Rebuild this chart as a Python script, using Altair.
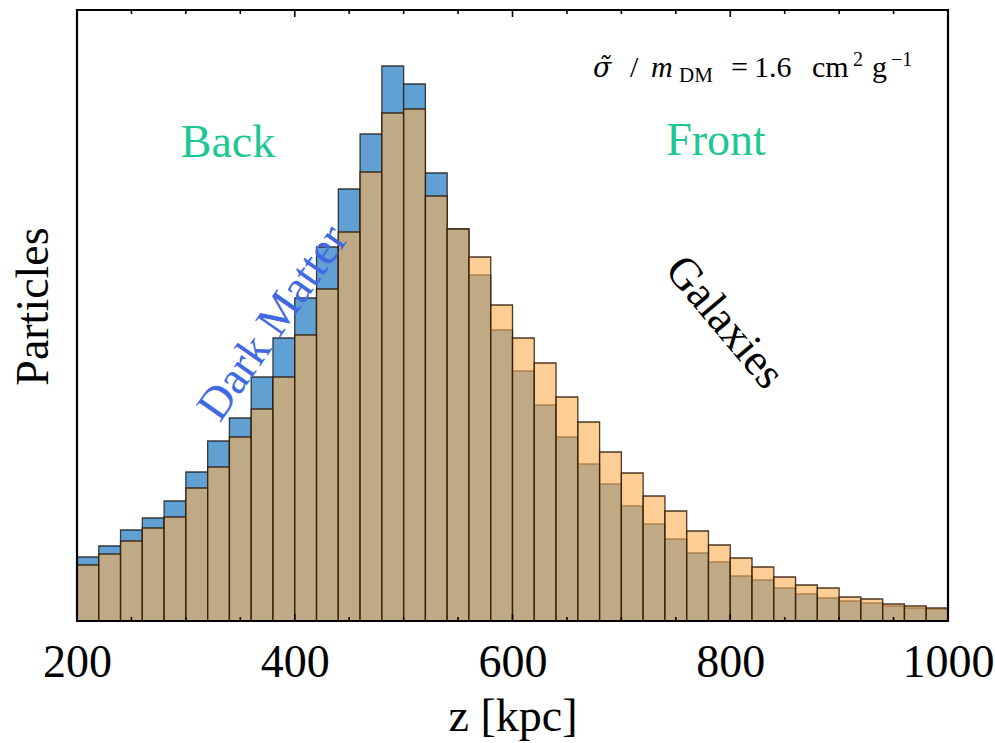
import altair as alt
import pandas as pd

# ---- data (arbitrary particle-count units) ----
z_start = [200, 220, 240, 260, 280, 300, 320, 340, 360, 380,
           400, 420, 440, 460, 480, 500, 520, 540, 560, 580,
           600, 620, 640, 660, 680, 700, 720, 740, 760, 780,
           800, 820, 840, 860, 880, 900, 920, 940, 960, 980]
bin_width = 20
dark_matter = [64, 75, 91, 103, 120, 149, 180, 203, 244, 283,
               323, 374, 432, 487, 555, 537, 448, 392, 346, 291,
               250, 216, 184, 157, 137, 115, 97, 82, 68, 59,
               45, 41, 33, 27, 23, 20, 18, 15, 13, 12]
galaxies = [56, 67, 80, 93, 104, 133, 154, 184, 212, 244,
            286, 332, 389, 449, 508, 512, 425, 392, 364, 316,
            283, 258, 224, 199, 169, 148, 125, 110, 90, 76,
            63, 54, 44, 36, 33, 24, 22, 17, 15, 13]
minor_ticks = [250, 300, 350, 450, 500, 550, 650, 700, 750, 850, 900, 950]
major_ticks = [400, 600, 800]
x_labels = [200, 400, 600, 800, 1000]

W, H = 871, 611
SERIF = "Liberation Serif"

df = pd.DataFrame({"z": z_start, "dm": dark_matter, "gal": galaxies})
df["z2"] = df["z"] + bin_width

xs = alt.Scale(domain=[200, 1000], nice=False, zero=False)
ys = alt.Scale(domain=[0, H], nice=False)

xaxis = alt.Axis(values=x_labels, format="d", labelFont=SERIF, labelFontSize=46,
                 labelColor="black", ticks=False, domain=False, grid=False,
                 labelPadding=19, labelFlush=False, title="z [kpc]",
                 titleFont=SERIF, titleFontSize=46, titleFontWeight="normal",
                 titleColor="black", titleY=109, titleBaseline="alphabetic")
yaxis = alt.Axis(labels=False, ticks=False, domain=False, grid=False,
                 title="Particles", titleFont=SERIF, titleFontSize=46,
                 titleFontWeight="normal", titleColor="black",
                 titleX=-30, titleY=296, titleBaseline="alphabetic",
                 titleAlign="center", titleAngle=270)

base = alt.Chart(df)
dm_bars = base.mark_rect(fill="#60a0d2", stroke="#1e1e1e", strokeWidth=1.3,
                         strokeOpacity=0.85).encode(
    x=alt.X("z:Q", scale=xs, axis=xaxis),
    x2="z2:Q",
    y=alt.Y("dm:Q", scale=ys, axis=yaxis),
    y2=alt.datum(0),
)
gal_bars = base.mark_rect(fill="#fbae55", fillOpacity=0.62, stroke="#2e1a06",
                          strokeWidth=1.3, strokeOpacity=0.85).encode(
    x=alt.X("z:Q", scale=xs),
    x2="z2:Q",
    y=alt.Y("gal:Q", scale=ys),
    y2=alt.datum(0),
)

tdf_minor = pd.DataFrame({"t": minor_ticks})
tdf_major = pd.DataFrame({"t": major_ticks})
tick_layers = []
for tdf, ln in ((tdf_minor, 4), (tdf_major, 7)):
    tick_layers.append(alt.Chart(tdf).mark_rule(color="black", strokeWidth=1.6).encode(
        x=alt.X("t:Q", scale=xs), y=alt.value(H), y2=alt.value(H - ln)))
    tick_layers.append(alt.Chart(tdf).mark_rule(color="black", strokeWidth=1.6).encode(
        x=alt.X("t:Q", scale=xs), y=alt.value(0), y2=alt.value(ln)))

frame = alt.Chart(pd.DataFrame({"f": [0]})).mark_rect(
    fillOpacity=0, stroke="black", strokeWidth=2.2).encode(
    x=alt.value(0), x2=alt.value(W), y=alt.value(0), y2=alt.value(H))


def label(txt, x, y, size, color="black", angle=0, align="center",
          baseline="alphabetic", style="normal", font=SERIF):
    kw = dict(font=font, fontSize=size, color=color, align=align,
              baseline=baseline, fontStyle=style)
    if angle:
        kw["angle"] = angle
    return alt.Chart(pd.DataFrame({"s": [txt]})).mark_text(**kw).encode(
        text="s:N", x=alt.value(x), y=alt.value(y))


teal = "#1cc794"
texts = [
    label("Back", 151, 147, 46, teal),
    label("Front", 639, 145, 46, teal),
    label("Dark Matter", 196, 313, 46, "#4169e1", angle=305, baseline="middle"),
    label("Galaxies", 648, 312, 45, "black", angle=50, baseline="middle"),
    # sigma-tilde / m_DM = 1.6 cm^2 g^-1
    label("\u03c3\u0303", 516, 67, 27, align="left", style="italic",
          font="DejaVu Serif"),
    label("/", 553, 67, 30, align="left"),
    label("m", 574, 67, 30, align="left", style="italic"),
    label("DM", 602, 72, 21, align="left"),
    label("=", 654, 67, 30, align="left"),
    label("1.6", 677, 67, 30, align="left"),
    label("cm", 735, 67, 30, align="left"),
    label("2", 776, 56, 20, align="left"),
    label("g", 795, 67, 30, align="left"),
    label("\u22121", 814, 56, 20, align="left"),
]

chart = alt.layer(dm_bars, gal_bars, *tick_layers, frame, *texts).properties(
    width=W, height=H,
    autosize=alt.AutoSizeParams(type="none"),
    padding={"left": 77, "top": 10, "right": 47, "bottom": 122},
).configure_view(stroke=None, fill="white").configure(
    background="white")

chart.save("out.html", embed_options={"renderer": "svg", "actions": False})
